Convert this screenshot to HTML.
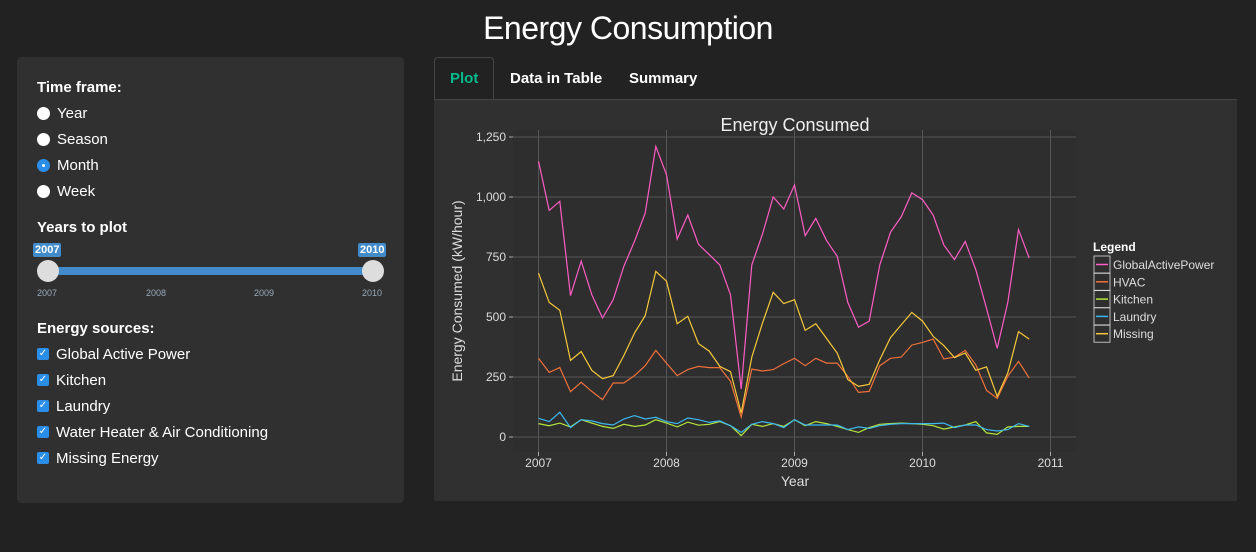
<!DOCTYPE html>
<html><head><meta charset="utf-8"><style>
body{margin:0;width:1256px;height:552px;background:#222;font-family:"Liberation Sans",sans-serif;color:#fff;position:relative;overflow:hidden}
.abs{position:absolute}
h1{position:absolute;left:0;width:1256px;top:10px;margin:0;text-align:center;font-size:32px;font-weight:normal;letter-spacing:-0.5px}
#side{left:17px;top:57px;width:387px;height:446px;background:#303030;border-radius:4px}
.lbl{font-weight:bold;font-size:15px}
.opt{font-size:15px;display:flex;align-items:center;gap:7px;height:26px}
.radio{width:13px;height:13px;border-radius:50%;background:#fff;display:inline-block}
.radio.on{background:#2a8ee8;position:relative}
.radio.on:after{content:"";position:absolute;left:5px;top:5px;width:3px;height:3px;border-radius:50%;background:#fff}
.cb{width:12px;height:12px;border-radius:2px;background:#2a8ee8;display:inline-block;color:#fff;font-size:10px;line-height:12px;text-align:center}
.tab{font-weight:bold;font-size:15px;top:70px}
</style></head><body>
<h1>Energy Consumption</h1>
<div id="side" class="abs">
 <div class="abs lbl" style="left:20px;top:22px">Time frame:</div>
 <div class="abs" style="left:20px;top:43px">
  <div class="opt"><span class="radio"></span>Year</div>
  <div class="opt"><span class="radio"></span>Season</div>
  <div class="opt"><span class="radio on"></span>Month</div>
  <div class="opt"><span class="radio"></span>Week</div>
 </div>
 <div class="abs lbl" style="left:20px;top:162px">Years to plot</div>
 <div class="abs" style="left:16px;top:186px;background:#428bca;font-size:11px;font-weight:bold;padding:1px 2px;border-radius:2px">2007</div>
 <div class="abs" style="left:341px;top:186px;background:#428bca;font-size:11px;font-weight:bold;padding:1px 2px;border-radius:2px">2010</div>
 <div class="abs" style="left:30px;top:210px;width:326px;height:8px;background:#428bca"></div>
 <div class="abs" style="left:20px;top:203px;width:22px;height:22px;border-radius:50%;background:#ddd"></div>
 <div class="abs" style="left:345px;top:203px;width:22px;height:22px;border-radius:50%;background:#ddd"></div>
 <div class="abs" style="left:20px;top:231px;font-size:9px;color:#9ab">2007</div>
 <div class="abs" style="left:129px;top:231px;font-size:9px;color:#9ab">2008</div>
 <div class="abs" style="left:237px;top:231px;font-size:9px;color:#9ab">2009</div>
 <div class="abs" style="left:345px;top:231px;font-size:9px;color:#9ab">2010</div>
 <div class="abs lbl" style="left:20px;top:263px">Energy sources:</div>
 <div class="abs" style="left:20px;top:284px">
  <div class="opt"><span class="cb">✓</span>Global Active Power</div>
  <div class="opt"><span class="cb">✓</span>Kitchen</div>
  <div class="opt"><span class="cb">✓</span>Laundry</div>
  <div class="opt"><span class="cb">✓</span>Water Heater &amp; Air Conditioning</div>
  <div class="opt"><span class="cb">✓</span>Missing Energy</div>
 </div>
</div>
<div class="abs" style="left:434px;top:57px;width:58px;height:43px;background:#222;border:1px solid #444;border-bottom:none;border-radius:4px 4px 0 0"></div>
<div class="abs tab" style="left:450px;color:#00bc8c">Plot</div>
<div class="abs tab" style="left:510px">Data in Table</div>
<div class="abs tab" style="left:629px">Summary</div>
<div class="abs" style="left:434px;top:99px;width:803px;height:401px;background:#303030;border-top:1px solid #444"></div>
<svg class="abs" style="left:0;top:0" width="1256" height="552" id="chart"></svg>
<script>
const months=47;
const seriesNames=["GlobalActivePower","HVAC","Kitchen","Laundry","Missing"];
const gap=[1149,944,982,589,733,593,496,572,711,815,933,1211,1093,825,925,803,760,717,593,200,717,846,1000,950,1050,839,911,819,753,561,458,483,717,853,917,1017,989,924,800,739,815,697,536,369,561,864,746];
const hvac=[328,269,289,189,228,190,156,225,225,256,297,361,308,256,281,294,289,289,232,83,283,275,281,306,328,297,328,308,308,253,186,190,297,328,333,383,394,408,325,333,361,301,194,161,253,315,246];
const kitchen=[56,47,58,42,72,58,44,36,53,44,50,72,58,42,62,49,53,64,47,6,53,44,56,44,72,47,64,56,44,31,19,39,53,56,58,56,53,47,33,42,50,64,17,11,42,44,44];
const laundry=[78,64,103,39,72,67,56,50,75,89,75,82,64,56,79,72,61,67,47,19,53,64,56,39,72,50,50,50,50,31,42,36,47,53,56,56,56,56,58,39,50,50,31,25,31,56,44];
const missing=[683,561,528,319,356,278,243,256,339,433,506,690,649,472,503,389,358,294,272,100,333,475,603,556,572,444,472,411,350,239,211,219,322,414,467,519,483,419,381,331,350,278,292,169,267,439,408];
const yTicks=[0,250,500,750,1000,1250];
const yTickLabels=["0","250","500","750","1,000","1,250"];
const xTicks=[2007,2008,2009,2010,2011];
const colors=["#ff5cc4","#f0703a","#b4e63c","#3cb8f0","#f5c83a"];
const NS="http://www.w3.org/2000/svg";
const svg=document.getElementById('chart');
const X=v=>538.5+(v-2007)*128;
const Y=v=>437-v*0.24;
function mk(t,a,p){const e=document.createElementNS(NS,t);for(const k in a)e.setAttribute(k,a[k]);(p||svg).appendChild(e);return e;}
const area=mk('rect',{x:513,y:130,width:563,height:322,fill:'#2e2e2e'});


yTicks.forEach((v,i)=>{
 const g=mk('line',{x1:513,x2:1076,y1:Y(v),y2:Y(v),stroke:'#575757','stroke-width':1});
 
 
 mk('line',{x1:509,x2:513,y1:Y(v),y2:Y(v),stroke:'#aaa'});
 const t=mk('text',{x:506,y:Y(v)+4,'text-anchor':'end','font-size':12,fill:'#ddd'});t.textContent=yTickLabels[i];
 
 
});
xTicks.forEach(v=>{
 const g=mk('line',{x1:X(v),x2:X(v),y1:130,y2:452,stroke:'#575757'});
 
 
 mk('line',{x1:X(v),x2:X(v),y1:452,y2:456,stroke:'#aaa'});
 const t=mk('text',{x:X(v),y:467,'text-anchor':'middle','font-size':12,fill:'#ddd'});t.textContent=v;
 
 
});
[gap,hvac,kitchen,laundry,missing].forEach((s,i)=>{
 const pts=s.map((v,m)=>X(2007+m/12).toFixed(1)+','+Y(v).toFixed(1)).join(' ');
 const p=mk('polyline',{points:pts,fill:'none',stroke:colors[i],'stroke-width':1.2});
 
 
});
let t=mk('text',{x:795,y:131,'text-anchor':'middle','font-size':18,fill:'#eee'});t.textContent='Energy Consumed';


t=mk('text',{x:795,y:486,'text-anchor':'middle','font-size':14,fill:'#ddd'});t.textContent='Year';


t=mk('text',{x:0,y:0,'text-anchor':'middle','font-size':14,fill:'#ddd',transform:'translate(462,291) rotate(-90)'});t.textContent='Energy Consumed (kW/hour)';


t=mk('text',{x:1093,y:251,'font-size':12,'font-weight':'bold',fill:'#fff'});t.textContent='Legend';


seriesNames.forEach((n,i)=>{
 const y0=256+i*17.3;
 mk('rect',{x:1094,y:y0,width:16,height:17,fill:'#2e2e2e',stroke:'#ddd','stroke-width':0.8});
 mk('line',{x1:1096,x2:1108,y1:y0+8.5,y2:y0+8.5,stroke:colors[i],'stroke-width':1.5});
 const l=mk('text',{x:1113,y:y0+13,'font-size':12,fill:'#ddd'});l.textContent=n;
 
 
});
</script>
</body></html>
